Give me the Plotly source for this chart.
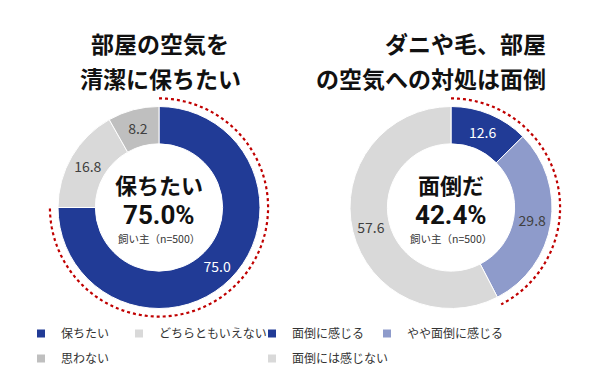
import numpy as np
import plotly.graph_objects as go

# ---- data ----
left_title = ["部屋の空気を", "清潔に保ちたい"]
left_labels = ["保ちたい", "どちらともいえない", "思わない"]
left_values = [75.0, 16.8, 8.2]
left_colors = ["#213B96", "#D9D9D9", "#BFBFBF"]
left_text_colors = ["#FFFFFF", "#404040", "#404040"]
left_center = "保ちたい"
left_highlight = [0]          # slices summed for the highlight arc / centre value

right_title = ["ダニや毛、部屋", "の空気への対処は面倒"]
right_labels = ["面倒に感じる", "やや面倒に感じる", "面倒には感じない"]
right_values = [12.6, 29.8, 57.6]
right_colors = ["#213B96", "#8E9BCB", "#D9D9D9"]
right_text_colors = ["#FFFFFF", "#404040", "#404040"]
right_center = "面倒だ"
right_highlight = [0, 1]

sample_note = "飼い主（n=500）"

FONT = "Noto Sans CJK JP"
NUMFONT = "Roboto"
# page body has an 8px default margin, so the figure is drawn 8px in from the corner
OFF = 8
W, H = 615 - OFF, 385 - OFF

fig = go.Figure()

def px_x(p):  # p: window pixel from left
    return (p - OFF) / W

def px_y(p):  # p: window pixel from top
    return 1 - (p - OFF) / H

R = 101.0  # pie radius in px
cy = 207.5
centers = [159.0, 451.0]

for i, (labels, values, colors, tcols) in enumerate([
        (left_labels, left_values, left_colors, left_text_colors),
        (right_labels, right_values, right_colors, right_text_colors)]):
    cx = centers[i]
    fig.add_trace(go.Pie(
        labels=labels, values=values, sort=False, direction="clockwise",
        rotation=0, hole=0.63,
        marker=dict(colors=colors, line=dict(color="white", width=1)),
        texttemplate="%{value:.1f}", textposition="inside",
        insidetextorientation="horizontal",
        textfont=dict(family=FONT, size=14, color=tcols),
        domain=dict(x=[px_x(cx - R), px_x(cx + R)], y=[px_y(cy + R), px_y(cy - R)]),
        showlegend=False, hoverinfo="label+value",
    ))

# highlight arcs on polar subplots
RP = 115.0
for i, (values, hl) in enumerate([(left_values, left_highlight), (right_values, right_highlight)]):
    cx = centers[i]
    share = sum(values[k] for k in hl)
    theta = np.linspace(0, share / sum(values) * 360.0, 200)
    key = "polar" if i == 0 else "polar2"
    fig.add_trace(go.Scatterpolar(
        r=np.full_like(theta, 1.08), theta=theta, mode="lines",
        line=dict(color="#C00000", width=2.2, dash="dot"),
        subplot=key, showlegend=False, hoverinfo="skip",
    ))
    fig.layout[key] = dict(
        domain=dict(x=[px_x(cx - RP), px_x(cx + RP)], y=[px_y(cy + RP), px_y(cy - RP)]),
        bgcolor="rgba(0,0,0,0)",
        radialaxis=dict(visible=False, range=[0, RP / R]),
        angularaxis=dict(visible=False, rotation=90, direction="clockwise"),
    )

# legend entries (one trace per category so columns can be laid out)
legend_map = [
    (left_labels[0], left_colors[0], "legend", "polar"),
    (left_labels[2], left_colors[2], "legend", "polar"),
    (left_labels[1], left_colors[1], "legend2", "polar"),
    (right_labels[0], right_colors[0], "legend3", "polar2"),
    (right_labels[2], right_colors[2], "legend3", "polar2"),
    (right_labels[1], right_colors[1], "legend4", "polar2"),
]
for name, col, lg, sp in legend_map:
    fig.add_trace(go.Scatterpolar(
        r=[None], theta=[None], mode="markers", name=name,
        marker=dict(symbol="square", size=8, color=col),
        subplot=sp, legend=lg, legendgroup=name, showlegend=True, hoverinfo="skip",
    ))

leg_common = dict(font=dict(family=FONT, size=12, color="#333333"), bgcolor="rgba(0,0,0,0)",
                  orientation="v", tracegroupgap=6, xanchor="left", yanchor="top",
                  itemclick=False, itemdoubleclick=False)
fig.update_layout(
    legend=dict(x=px_x(21), y=px_y(319), **leg_common),
    legend2=dict(x=px_x(119), y=px_y(319), **leg_common),
    legend3=dict(x=px_x(252), y=px_y(319), **leg_common),
    legend4=dict(x=px_x(367), y=px_y(319), **leg_common),
)

annotations = []
# titles
for j, line in enumerate(left_title):
    annotations.append(dict(text=f"<b>{line}</b>", x=px_x(160), y=px_y(43 + 35 * j),
                            xanchor="center", yanchor="middle", showarrow=False,
                            font=dict(family=FONT, size=23, color="#111111")))
for j, line in enumerate(right_title):
    annotations.append(dict(text=f"<b>{line}</b>", x=px_x(548), y=px_y(43 + 35 * j),
                            xanchor="right", yanchor="middle", showarrow=False,
                            font=dict(family=FONT, size=23, color="#111111")))
# centre texts
for i, (word, values, hl) in enumerate([(left_center, left_values, left_highlight),
                                        (right_center, right_values, right_highlight)]):
    cx = centers[i]
    pct = sum(values[k] for k in hl)
    annotations.append(dict(text=f"<b>{word}</b>", x=px_x(cx), y=px_y(184),
                            xanchor="center", yanchor="middle", showarrow=False,
                            font=dict(family=FONT, size=22, color="#111111")))
    annotations.append(dict(text=f"<b>{pct:.1f}%</b>", x=px_x(cx), y=px_y(215),
                            xanchor="center", yanchor="middle", showarrow=False,
                            font=dict(family=NUMFONT, size=26, color="#111111")))
    annotations.append(dict(text=sample_note, x=px_x(cx), y=px_y(238),
                            xanchor="center", yanchor="middle", showarrow=False,
                            font=dict(family=FONT, size=10.5, color="#333333")))

fig.update_layout(
    width=W, height=H, margin=dict(l=0, r=0, t=0, b=0),
    paper_bgcolor="white", plot_bgcolor="white",
    annotations=annotations,
    font=dict(family=FONT),
)

fig.write_html("out.html")
